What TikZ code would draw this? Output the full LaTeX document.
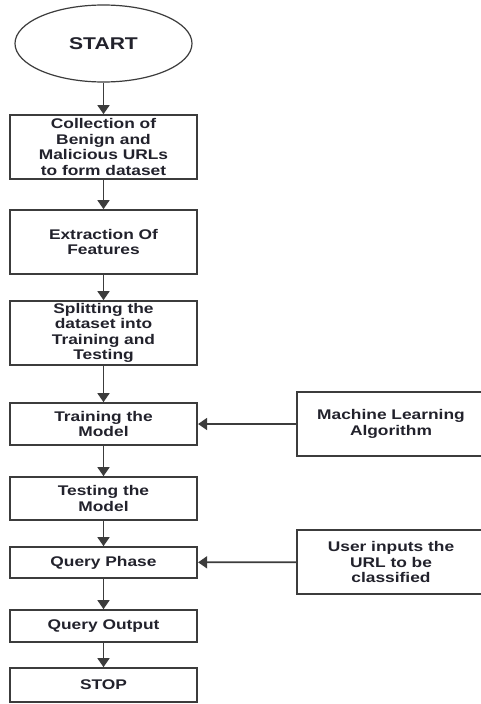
\documentclass[tikz,border=0pt]{standalone}
\usepackage{fontspec}
\setmainfont{Liberation Sans}[FakeStretch=1.24]
\usetikzlibrary{shapes.geometric,arrows.meta}
\definecolor{lineg}{HTML}{3C3C3C}
\definecolor{txt}{HTML}{22222C}
\begin{document}
\begin{tikzpicture}[x=1pt,y=-1pt,
  box/.style={draw=lineg,line width=1.7pt,rectangle,minimum width=187.5pt,inner sep=0pt,align=center,
    text=txt,font=\bfseries\fontsize{14}{15.5}\selectfont},
  oval/.style={draw=lineg,line width=1.2pt,ellipse,minimum width=177pt,minimum height=77pt,inner sep=0pt,
    text=txt,font=\bfseries\fontsize{17}{19}\selectfont},
  conn/.style={draw=lineg,line width=1.7pt,-{Triangle[width=12pt,length=9pt]}}]
\useasboundingbox (0,0) rectangle (481,704);
\clip (0,0) rectangle (481,704);
\fill[white] (0,0) rectangle (481,704);
\node[oval] (start) at (103.5,43.5) {START};
\node[box,minimum height=64pt] (b1) at (103.5,147) {Collection of\\Benign and\\Malicious URLs\\to form dataset};
\node[box,minimum height=64pt] (b2) at (103.5,242) {Extraction Of\\Features};
\node[box,minimum height=64pt] (b3) at (103.5,333) {Splitting the\\dataset into\\Training and\\Testing};
\node[box,minimum height=42pt] (b4) at (103.5,424) {Training the\\Model};
\node[box,minimum height=43pt] (b5) at (103.5,498.5) {Testing the\\Model};
\node[box,minimum height=31pt] (b6) at (103.5,562.5) {Query Phase};
\node[box,minimum height=32pt] (b7) at (103.5,626) {Query Output};
\node[box,minimum height=34pt] (b8) at (103.5,685) {STOP};
\node[box,minimum height=64pt,minimum width=188pt] (ml) at (391,424) {Machine Learning\\Algorithm};
\node[box,minimum height=64pt,minimum width=188pt] (user) at (391,562) {User inputs the\\URL to be\\classified};
\draw[conn] (start) -- (b1);
\draw[conn] (b1) -- (b2);
\draw[conn] (b2) -- (b3);
\draw[conn] (b3) -- (b4);
\draw[conn] (b4) -- (b5);
\draw[conn] (b5) -- (b6);
\draw[conn] (b6) -- (b7);
\draw[conn] (b7) -- (b8);
\draw[conn] (ml) -- (b4);
\draw[conn] (user) -- (b6);
\end{tikzpicture}
\end{document}
